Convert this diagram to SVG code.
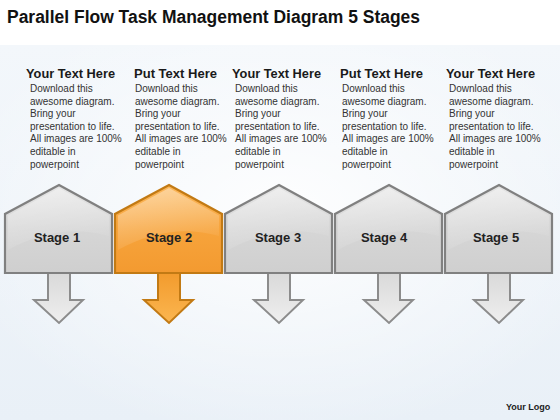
<svg xmlns="http://www.w3.org/2000/svg" width="560" height="420" viewBox="0 0 560 420">
  <defs>
    <linearGradient id="bg" x1="0" y1="0" x2="0" y2="1">
      <stop offset="0" stop-color="#f3f7fb"/>
      <stop offset="1" stop-color="#e9f0f7"/>
    </linearGradient>
    <radialGradient id="bgGlow" cx="0.5" cy="0.45" r="0.6">
      <stop offset="0" stop-color="#ffffff" stop-opacity="0.9"/>
      <stop offset="1" stop-color="#ffffff" stop-opacity="0"/>
    </radialGradient>
    <linearGradient id="greyFill" x1="0" y1="0" x2="0" y2="1">
      <stop offset="0" stop-color="#e4e4e4"/>
      <stop offset="0.5" stop-color="#d6d6d6"/>
      <stop offset="1" stop-color="#cfcfcf"/>
    </linearGradient>
    <linearGradient id="orangeFill" x1="0" y1="0" x2="0" y2="1">
      <stop offset="0" stop-color="#fbb75a"/>
      <stop offset="0.5" stop-color="#f7a43c"/>
      <stop offset="1" stop-color="#f39a30"/>
    </linearGradient>
    <linearGradient id="greyArrow" x1="0" y1="0" x2="0" y2="1">
      <stop offset="0" stop-color="#d8d8d8"/>
      <stop offset="1" stop-color="#efefef"/>
    </linearGradient>
    <linearGradient id="orangeArrow" x1="0" y1="0" x2="0" y2="1">
      <stop offset="0" stop-color="#f29a2c"/>
      <stop offset="1" stop-color="#fbb650"/>
    </linearGradient>
    <linearGradient id="gloss" x1="0" y1="0" x2="0.3" y2="1">
      <stop offset="0" stop-color="#ffffff" stop-opacity="0.45"/>
      <stop offset="1" stop-color="#ffffff" stop-opacity="0.05"/>
    </linearGradient>
    <path id="penta" d="M0,185 L53,214 L53,273 L-54,273 L-54,214 Z"/>
    <path id="glossShape" d="M0,188 L50,215.5 L50,236 Q0,222 -51,250 L-51,215.5 Z"/>
    <path id="arrow" d="M-11,271 L11,271 L11,300 L24,300 L0,323 L-25,300 L-11,300 Z"/>
  </defs>
  <style>
    .title { font-family: "Liberation Sans", Arial, sans-serif; font-weight: bold; font-size: 18px; fill: #111111; }
    .head { font-family: "Liberation Sans", Arial, sans-serif; font-weight: bold; font-size: 12px; fill: #1a1a1a; }
    .body { font-family: "Liberation Sans", Arial, sans-serif; font-size: 10px; fill: #333333; }
    .stage { font-family: "Liberation Sans", Arial, sans-serif; font-weight: bold; font-size: 13px; fill: #222222; text-anchor: middle; }
    .logo { font-family: "Liberation Sans", Arial, sans-serif; font-weight: bold; font-size: 9px; fill: #222222; }
    .gp { fill: url(#greyFill); stroke: #808080; stroke-width: 2.2; stroke-linejoin: miter; }
    .op { fill: url(#orangeFill); stroke: #c27a14; stroke-width: 2.2; stroke-linejoin: miter; }
    .ga { fill: url(#greyArrow); stroke: #8c8c8c; stroke-width: 2; stroke-linejoin: miter; }
    .oa { fill: url(#orangeArrow); stroke: #c27a14; stroke-width: 2; stroke-linejoin: miter; }
    .gl { fill: url(#gloss); }
  </style>

  <rect x="0" y="0" width="560" height="420" fill="#ffffff"/>
  <rect x="0" y="45" width="560" height="375" fill="url(#bg)"/>
  <rect x="0" y="45" width="560" height="375" fill="url(#bgGlow)"/>

  <text class="title" x="7" y="23" textLength="413" lengthAdjust="spacingAndGlyphs">Parallel Flow Task Management Diagram 5 Stages</text>

  <g id="texts">
    <g id="text1">
      <text class="head" x="26" y="78" textLength="89" lengthAdjust="spacingAndGlyphs">Your Text Here</text>
      <text class="body" x="30" y="92">
        <tspan x="30" dy="0">Download this</tspan>
        <tspan x="30" dy="12.6">awesome diagram.</tspan>
        <tspan x="30" dy="12.6">Bring your</tspan>
        <tspan x="30" dy="12.6">presentation to life.</tspan>
        <tspan x="30" dy="12.6">All images are 100%</tspan>
        <tspan x="30" dy="12.6">editable in</tspan>
        <tspan x="30" dy="12.6">powerpoint</tspan>
      </text>
    </g>
    <g id="text2">
      <text class="head" x="134" y="78" textLength="83" lengthAdjust="spacingAndGlyphs">Put Text Here</text>
      <text class="body" x="135" y="92">
        <tspan x="135" dy="0">Download this</tspan>
        <tspan x="135" dy="12.6">awesome diagram.</tspan>
        <tspan x="135" dy="12.6">Bring your</tspan>
        <tspan x="135" dy="12.6">presentation to life.</tspan>
        <tspan x="135" dy="12.6">All images are 100%</tspan>
        <tspan x="135" dy="12.6">editable in</tspan>
        <tspan x="135" dy="12.6">powerpoint</tspan>
      </text>
    </g>
    <g id="text3">
      <text class="head" x="232" y="78" textLength="89" lengthAdjust="spacingAndGlyphs">Your Text Here</text>
      <text class="body" x="235" y="92">
        <tspan x="235" dy="0">Download this</tspan>
        <tspan x="235" dy="12.6">awesome diagram.</tspan>
        <tspan x="235" dy="12.6">Bring your</tspan>
        <tspan x="235" dy="12.6">presentation to life.</tspan>
        <tspan x="235" dy="12.6">All images are 100%</tspan>
        <tspan x="235" dy="12.6">editable in</tspan>
        <tspan x="235" dy="12.6">powerpoint</tspan>
      </text>
    </g>
    <g id="text4">
      <text class="head" x="340" y="78" textLength="83" lengthAdjust="spacingAndGlyphs">Put Text Here</text>
      <text class="body" x="342" y="92">
        <tspan x="342" dy="0">Download this</tspan>
        <tspan x="342" dy="12.6">awesome diagram.</tspan>
        <tspan x="342" dy="12.6">Bring your</tspan>
        <tspan x="342" dy="12.6">presentation to life.</tspan>
        <tspan x="342" dy="12.6">All images are 100%</tspan>
        <tspan x="342" dy="12.6">editable in</tspan>
        <tspan x="342" dy="12.6">powerpoint</tspan>
      </text>
    </g>
    <g id="text5">
      <text class="head" x="446" y="78" textLength="89" lengthAdjust="spacingAndGlyphs">Your Text Here</text>
      <text class="body" x="449" y="92">
        <tspan x="449" dy="0">Download this</tspan>
        <tspan x="449" dy="12.6">awesome diagram.</tspan>
        <tspan x="449" dy="12.6">Bring your</tspan>
        <tspan x="449" dy="12.6">presentation to life.</tspan>
        <tspan x="449" dy="12.6">All images are 100%</tspan>
        <tspan x="449" dy="12.6">editable in</tspan>
        <tspan x="449" dy="12.6">powerpoint</tspan>
      </text>
    </g>
  </g>

  <g id="connectors">
    <use href="#arrow" class="ga" transform="translate(59,0)"/>
    <use href="#arrow" class="oa" transform="translate(169,0)"/>
    <use href="#arrow" class="ga" transform="translate(279,0)"/>
    <use href="#arrow" class="ga" transform="translate(389,0)"/>
    <use href="#arrow" class="ga" transform="translate(499,0)"/>
  </g>

  <g id="stage1" transform="translate(59,0)">
    <use href="#penta" class="gp"/>
    <use href="#glossShape" class="gl"/>
    <text class="stage" x="-2" y="242">Stage 1</text>
  </g>
  <g id="stage2" transform="translate(169,0)">
    <use href="#penta" class="op"/>
    <use href="#glossShape" class="gl"/>
    <text class="stage" x="0" y="242">Stage 2</text>
  </g>
  <g id="stage3" transform="translate(279,0)">
    <use href="#penta" class="gp"/>
    <use href="#glossShape" class="gl"/>
    <text class="stage" x="-1" y="242">Stage 3</text>
  </g>
  <g id="stage4" transform="translate(389,0)">
    <use href="#penta" class="gp"/>
    <use href="#glossShape" class="gl"/>
    <text class="stage" x="-5" y="242">Stage 4</text>
  </g>
  <g id="stage5" transform="translate(499,0)">
    <use href="#penta" class="gp"/>
    <use href="#glossShape" class="gl"/>
    <text class="stage" x="-3" y="242">Stage 5</text>
  </g>

  <text class="logo" x="506" y="410">Your Logo</text>
</svg>
